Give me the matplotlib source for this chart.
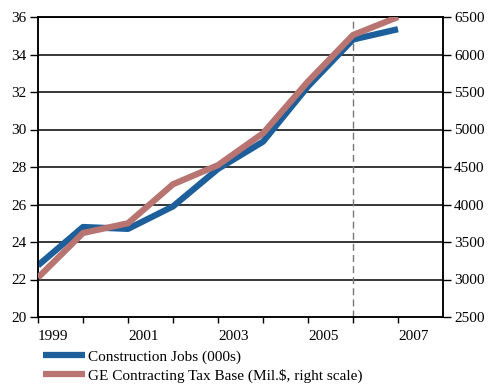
import matplotlib
matplotlib.use("Agg")
import matplotlib.pyplot as plt
from matplotlib.ticker import FixedLocator

years = [1999, 2000, 2001, 2002, 2003, 2004, 2005, 2006, 2007]
construction_jobs = [22.75, 24.8, 24.7, 25.9, 27.9, 29.35, 32.3, 34.8, 35.35]
tax_base = [3025, 3620, 3750, 4270, 4525, 4950, 5640, 6260, 6500]
x_labels = ["1999", "2001", "2003", "2005", "2007"]
label_years = [1999, 2001, 2003, 2005, 2007]
left_ticks = [20, 22, 24, 26, 28, 30, 32, 34, 36]
right_ticks = [2500, 3000, 3500, 4000, 4500, 5000, 5500, 6000, 6500]
series_names = ["Construction Jobs (000s)", "GE Contracting Tax Base (Mil.$, right scale)"]

plt.rcParams['font.family'] = ['Liberation Serif', 'DejaVu Serif']
fs = 11

fig = plt.figure(figsize=(4.89, 3.86), dpi=100)
ax = fig.add_axes([38/489, 1-317/386, (443-38)/489, (317-17)/386])
ax2 = ax.twinx()

blue = '#1d5f9b'
red = '#b87471'

for y in left_ticks[1:]:
    ax.axhline(y, color='black', lw=1.1, zorder=1)
ax.axvline(2006, color='#777777', lw=1, ls=(0, (5, 3)), zorder=1)

l1, = ax.plot(years, construction_jobs, color=blue, lw=4.5, solid_capstyle='butt',
              solid_joinstyle='round', zorder=3)
l2, = ax2.plot(years, tax_base, color=red, lw=4.5, solid_capstyle='butt',
               solid_joinstyle='round', zorder=4)

ax.set_xlim(1999, 2008)
ax.set_ylim(20, 36)
ax2.set_ylim(2500, 6500)
ax.set_yticks(left_ticks)
ax2.set_yticks(right_ticks)
ax.set_xticks(label_years)
ax.set_xticklabels(x_labels, ha='left')
ax.xaxis.set_minor_locator(FixedLocator([2000, 2002, 2004, 2006]))

ax.tick_params(axis='y', direction='out', length=6, width=1, labelsize=fs, pad=2)
ax2.tick_params(axis='y', direction='out', length=6, width=1, labelsize=fs, pad=2)
ax.tick_params(axis='x', which='both', direction='out', length=4, width=1, labelsize=fs, pad=5)

for a in (ax, ax2):
    for s in a.spines.values():
        s.set_linewidth(1.1)
        s.set_color('black')

fig.legend([l1, l2], series_names, loc='upper left',
           bbox_to_anchor=(43/489, 1-350/386), frameon=False, fontsize=fs,
           handlelength=2.75, handletextpad=0.2, labelspacing=0.3,
           borderpad=0, borderaxespad=0)

fig.savefig('out.png', dpi=100)
